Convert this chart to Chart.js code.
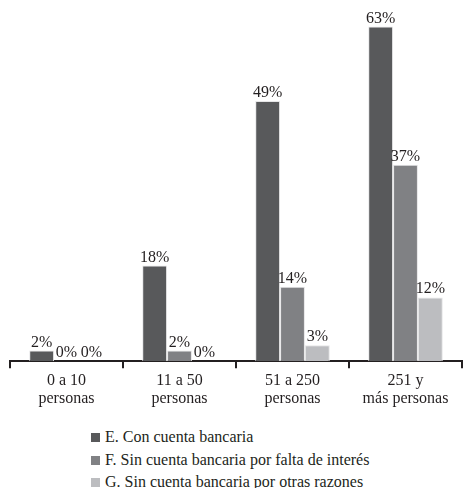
<!DOCTYPE html>
<html>
<head>
<meta charset="utf-8">
<script src="https://cdn.jsdelivr.net/npm/chart.js@4/dist/chart.umd.min.js"></script>
<style>
  html, body { margin: 0; padding: 0; background: #fff; font-family: 'Times New Roman'; }
  #wrap { position: relative; width: 463px; height: 488px; }
  #chartBox { position: absolute; left: 0; top: 0; width: 463px; height: 411px; }
  #legend { position: absolute; left: 91px; top: 426px; font-size: 16px; color: #231f20; }
  #legend div { height: 22.5px; line-height: 22.5px; white-space: nowrap; font-family: 'Times New Roman'; }
  #legend span.sw { display: inline-block; width: 9px; height: 9px; margin-right: 5px; vertical-align: 0px; }
</style>
</head>
<body>
<div id="wrap">
  <div id="chartBox"><canvas id="c"></canvas></div>
  <div id="legend"></div>
</div>
<script>
const categories = [["0 a 10", "personas"], ["11 a 50", "personas"], ["51 a 250", "personas"], ["251 y", "más personas"]];
const seriesNames = ["E. Con cuenta bancaria", "F. Sin cuenta bancaria por falta de interés", "G. Sin cuenta bancaria por otras razones"];
const seriesE = [2, 18, 49, 63];
const seriesF = [0, 2, 14, 37];
const seriesG = [0, 0, 3, 12];
const colors = ["#58595b", "#808184", "#bcbdc0"];
const FONT_FAMILY = '"Times New Roman"';

const leg = document.getElementById('legend');
seriesNames.forEach((n, i) => {
  const d = document.createElement('div');
  d.style.fontFamily = "'Times New Roman'";
  const s = document.createElement('span');
  s.className = 'sw';
  s.style.background = colors[i];
  d.appendChild(s);
  d.appendChild(document.createTextNode(n));
  leg.appendChild(d);
});

Chart.defaults.font.family = FONT_FAMILY;

const labelPlugin = {
  id: 'valueLabels',
  afterDatasetsDraw(chart) {
    const ctx = chart.ctx;
    ctx.save();
    ctx.font = '16px ' + FONT_FAMILY;
    ctx.fillStyle = '#231f20';
    ctx.textAlign = 'center';
    ctx.textBaseline = 'alphabetic';
    chart.data.datasets.forEach((ds, i) => {
      const meta = chart.getDatasetMeta(i);
      meta.data.forEach((bar, j) => {
        ctx.fillText(ds.data[j] + '%', bar.x, bar.y - 4);
      });
    });
    ctx.restore();
  }
};

const data = {
  labels: categories,
  datasets: [seriesE, seriesF, seriesG].map((d, i) => ({
    label: seriesNames[i],
    data: d,
    backgroundColor: colors[i],
    borderColor: '#e6e6e7',
    borderWidth: { top: 1, left: 1, right: 1, bottom: 0 },
    barPercentage: 1.0,
    categoryPercentage: 0.66
  }))
};

const chart = new Chart(document.getElementById('c'), {
  type: 'bar',
  data: data,
  plugins: [labelPlugin],
  options: {
    responsive: true,
    maintainAspectRatio: false,
    animation: false,
    layout: { padding: { left: 10, right: 1, top: 0, bottom: 0 } },
    plugins: { legend: { display: false }, tooltip: { enabled: false } },
    scales: {
      y: { display: false, min: 0, max: 68 },
      x: {
        grid: { display: true, offset: true, drawOnChartArea: false, drawTicks: true, tickLength: 7, color: '#231f20', lineWidth: 2 },
        border: { display: true, color: '#231f20', width: 2 },
        ticks: {
          color: '#231f20',
          padding: 3,
          maxRotation: 0,
          font: { family: FONT_FAMILY, size: 16, lineHeight: 1.15 }
        }
      }
    }
  }
});

if (document.fonts && document.fonts.load) {
  document.fonts.load('16px ' + FONT_FAMILY).then(() => chart.update());
}
</script>
</body>
</html>
